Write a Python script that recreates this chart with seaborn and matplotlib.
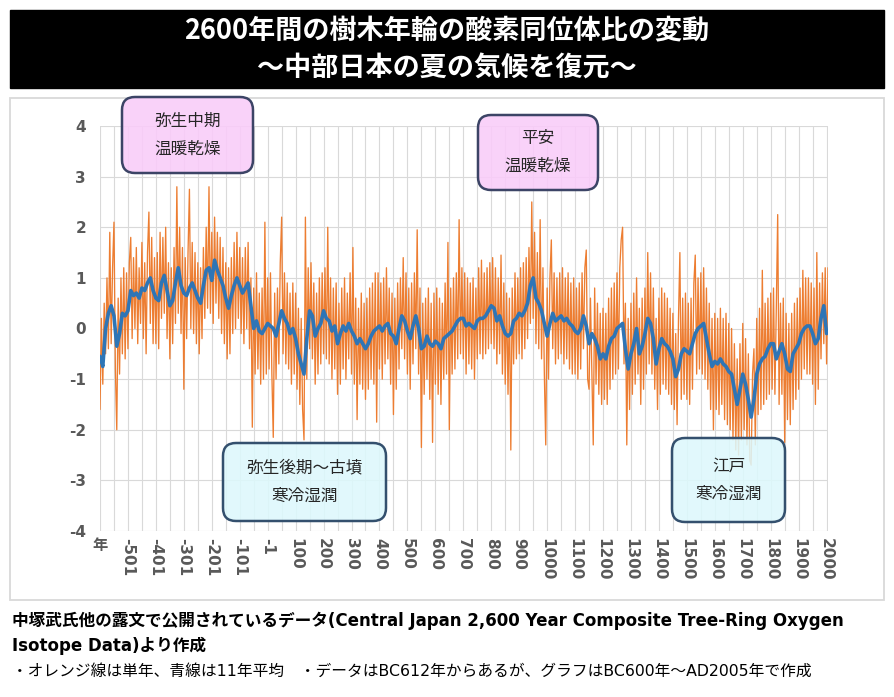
import numpy as np
import pandas as pd
import seaborn as sns
import matplotlib.pyplot as plt
from matplotlib.patches import FancyBboxPatch, Rectangle
from matplotlib.colors import to_rgba

"""
DATA: orange = single year values (5-year steps), blue = 11-year mean (10-year steps)
"""

annual_years = np.arange(-600, 2006, 5)
annual_vals = [
    -1.6, 0.2, -1.1, 0.5, -0.5, 1.0, -0.4, 1.9, -0.3, 1.2, 2.1, -0.8, -2.0, 0.6, -0.9, 1.0, -0.5, 1.2, -0.6, 1.1,
    -0.4, 1.3, 1.8, -0.2, 1.4, 0.0, 1.6, -0.3, 1.2, 0.1, 1.7, -0.2, 1.3, -0.5, 1.5, 2.3, 0.1, 1.8, -0.3, 1.4,
    -0.3, 1.5, -0.4, 1.9, 0.2, 1.8, 0.3, 2.0, -0.2, 1.3, -0.6, 1.2, -0.3, 1.6, 0.1, 2.8, 0.3, 2.0, -0.1, 1.6,
    -1.2, 1.4, -0.2, 1.5, 2.75, 0.0, 1.7, -0.1, 1.5, -0.3, 1.3, -0.5, 1.2, -0.2, 1.6, 0.2, 2.0, 0.4, 2.8, 0.3,
    1.9, 0.1, 2.2, 0.5, 1.9, 0.2, 1.8, -0.1, 1.6, -0.3, 1.3, -0.6, 1.2, -0.5, 1.4, -0.1, 1.7, 0.0, 1.9, 0.2,
    1.6, -0.1, 1.4, -0.3, 1.6, 0.0, 1.7, -0.4, 1.0, -1.95, 0.8, -0.9, 1.1, -0.8, 0.7, -1.1, 0.8, -1.0, 2.1, -0.9,
    1.0, -0.8, 1.1, -0.9, -2.15, 0.7, -1.0, 0.8, -0.7, 1.3, 2.2, -0.5, 1.1, -0.7, 0.9, -0.8, 0.7, -1.1, 0.9, -0.9,
    0.7, -1.2, 0.4, -1.5, 0.2, -1.6, -2.2, 2.2, -1.0, 1.2, -0.4, 1.3, -0.6, 0.9, -1.1, 0.7, -0.9, 1.0, -0.7, 1.1,
    -0.5, 1.2, -0.6, 2.0, -0.7, 1.0, -1.0, 0.8, -0.8, 0.9, -1.3, 0.5, -1.1, 0.8, -0.8, 1.0, -1.0, 0.7, -0.6, 1.1,
    -0.9, 1.6, -1.1, 0.6, -1.8, 0.4, -1.1, 0.7, -1.2, 0.5, -1.4, 0.6, -1.2, 0.8, -1.0, 0.9, -1.1, 1.1, -1.85, 1.1,
    -0.8, 0.9, -1.0, 1.0, -0.7, 1.2, -0.6, 0.8, -1.1, 0.7, -1.7, 0.6, -1.2, 0.9, -0.8, 1.0, -0.4, 1.4, -0.6, 1.1,
    -0.9, 0.8, -1.2, 0.9, -0.7, 1.1, -0.4, 1.95, -0.9, 0.8, -2.35, 0.5, -1.3, 0.6, -1.0, 0.8, -1.4, 0.5, -2.25, 0.7,
    -1.1, 0.8, -1.3, 0.6, -1.5, 0.5, -1.0, 0.9, -0.9, 1.7, -2.0, 0.8, -0.9, 1.0, -0.8, 1.1, -0.6, 2.15, -0.5, 1.2,
    -0.6, 1.1, -0.9, 1.0, -0.7, 0.9, -0.8, 1.0, -1.0, 0.8, -0.6, 1.2, -0.5, 1.35, -0.6, 1.1, -0.5, 1.2, -0.4, 1.3,
    -0.3, 1.4, -0.4, 1.2, -0.7, 1.0, -0.5, 1.45, -0.9, 0.9, -1.1, 0.7, -1.3, 0.6, -2.4, 0.8, -0.7, 1.1, -0.6, 1.0,
    -0.5, 1.2, -0.6, 1.3, -0.4, 1.4, -0.2, 1.6, 0.1, 2.5, 0.2, 1.9, -0.3, 1.5, -0.4, 2.15, -0.6, 1.2, -0.9, -2.3,
    0.8, -1.0, 1.0, 1.75, -0.4, 1.1, -0.7, 1.0, -0.6, 1.1, -0.5, 1.2, -0.7, 1.0, -0.6, 1.1, -0.8, 0.9, -0.9, 1.0,
    -0.9, 0.8, -1.0, 0.9, -0.8, 1.1, -0.4, 1.2, 1.55, -1.0, -1.2, 0.6, -0.9, -2.3, 0.8, -1.1, 0.5, -1.3, 0.3, -1.5,
    0.4, -1.4, 0.3, -1.5, 0.6, -1.2, 0.8, -1.0, 0.9, -0.9, 1.1, -0.8, 1.2, 1.75, 2.0, -0.7, 0.5, -2.3, 0.2, -1.6,
    0.5, -1.3, 0.7, -1.1, 1.0, -0.9, 0.4, -1.5, 0.6, -1.2, 0.8, -0.9, 1.5, -0.7, 1.1, -0.9, 0.8, -1.2, 0.2, -1.6,
    0.6, -1.3, 0.8, -1.1, 0.7, -1.2, 0.6, -1.3, 0.4, -1.5, 0.3, -1.6, -0.1, -1.9, 0.2, 1.5, -1.4, 0.6, -1.3, 0.7,
    -1.4, 0.5, -1.5, 0.6, -1.2, 0.9, 1.45, -0.9, 1.0, -0.8, 1.1, -0.9, 1.2, -1.0, 0.8, -1.2, 0.5, -1.6, 0.2, -2.0,
    0.3, -1.6, 0.2, -1.7, 0.4, -1.5, 0.2, -1.8, 0.3, -1.9, 0.1, -2.0, 0.0, -2.2, -0.3, -2.4, -0.6, -2.5, -0.3, -2.2,
    0.1, -2.0, -0.2, -2.3, -0.5, -2.6, -2.7, -0.9, -0.4, -2.3, 0.2, -1.7, 0.4, -1.6, 1.15, -1.5, 0.5, -1.4, 0.6, -1.3,
    0.7, -1.2, 0.8, -1.3, 0.4, 2.25, -1.5, 0.5, -1.3, 0.6, -2.25, 0.3, -1.8, 0.1, -1.9, 0.3, -1.6, 0.5, -1.4, 0.6,
    -1.2, 0.8, -1.0, 1.15, -0.8, 1.0, -0.9, 1.0, -0.9, 0.9, -1.1, 0.8, -1.5, 1.5, -1.2, 0.9, -0.6, 1.1, -0.3, 1.2,
    -0.7, 1.2,
]

mean_years = np.arange(-600, 2001, 10)
mean_vals = [
    -0.55, -0.75, 0.0, 0.3, 0.45, 0.25, -0.35, -0.1, 0.3, 0.25,
    0.35, 0.75, 0.65, 0.7, 0.6, 0.8, 0.75, 0.9, 1.0, 0.75,
    0.6, 0.55, 0.9, 1.05, 0.75, 0.45, 0.55, 0.9, 1.2, 0.85,
    0.7, 0.65, 0.8, 0.9, 0.75, 0.6, 0.5, 0.85, 1.15, 1.2,
    0.95, 1.35, 1.15, 1.0, 0.85, 0.6, 0.4, 0.65, 0.85, 1.0,
    0.85, 0.7, 0.8, 0.9, 0.45, 0.0, 0.15, -0.05, -0.1, 0.0,
    0.1, 0.05, 0.0, -0.15, 0.1, 0.35, 0.2, 0.1, -0.1, 0.0,
    -0.2, -0.5, -0.7, -0.9, -0.2, 0.35, 0.25, -0.15, 0.0, 0.1,
    0.35, 0.2, 0.15, -0.05, 0.05, -0.3, -0.1, 0.05, -0.05, 0.1,
    -0.05, -0.15, -0.3, -0.2, -0.3, -0.4, -0.3, -0.15, -0.05, 0.0,
    0.05, -0.05, 0.05, 0.1, -0.1, -0.15, -0.3, 0.0, 0.25, 0.15,
    -0.05, -0.2, 0.05, 0.25, 0.0, -0.4, -0.35, -0.15, -0.3, -0.35,
    -0.25, -0.3, -0.4, -0.2, -0.15, -0.1, -0.05, 0.05, 0.15, 0.2,
    0.2, 0.05, 0.1, 0.05, 0.0, 0.15, 0.2, 0.2, 0.25, 0.35,
    0.45, 0.4, 0.15, 0.25, 0.05, -0.1, -0.15, -0.1, 0.15, 0.2,
    0.3, 0.25, 0.35, 0.5, 0.85, 1.0, 0.6, 0.5, 0.35, 0.1,
    -0.15, 0.1, 0.3, 0.15, 0.2, 0.25, 0.15, 0.2, 0.1, 0.05,
    -0.05, -0.1, 0.0, 0.25, 0.05, -0.3, -0.1, -0.2, -0.35, -0.6,
    -0.5, -0.6, -0.35, -0.2, -0.15, 0.0, 0.05, 0.1, -0.4, -0.8,
    -0.5, -0.3, 0.0, -0.5, -0.35, -0.1, 0.2, 0.1, -0.2, -0.7,
    -0.4, -0.2, -0.3, -0.35, -0.45, -0.6, -0.95, -0.8, -0.5, -0.4,
    -0.45, -0.5, -0.3, -0.1, 0.0, 0.05, 0.1, -0.2, -0.5, -0.75,
    -0.65, -0.7, -0.6, -0.7, -0.75, -0.85, -0.9, -1.2, -1.5, -1.2,
    -0.9, -1.1, -1.4, -1.75, -1.4, -0.9, -0.7, -0.6, -0.55, -0.4,
    -0.3, -0.3, -0.6, -0.45, -0.3, -0.5, -0.8, -0.85, -0.5, -0.4,
    -0.3, -0.1, 0.0, 0.05, 0.05, -0.1, -0.3, -0.2, 0.2, 0.45,
    -0.1,
]

tick_pos = np.arange(-600, 2001, 100)
tick_labels = ['年', '-501', '-401', '-301', '-201', '-101', '-1'] + [str(v) for v in range(100, 2001, 100)]

df_annual = pd.DataFrame({'year': annual_years, 'val': annual_vals})
df_mean = pd.DataFrame({'year': mean_years, 'val': mean_vals})

sns.set_theme(style='white')
plt.rcParams['font.family'] = ['DejaVu Sans', 'Noto Sans CJK JP']
JP = ['Noto Sans CJK JP', 'DejaVu Sans']

fig = plt.figure(figsize=(8.94, 6.97), dpi=100)
ax = fig.add_axes([100 / 894, 1 - 531 / 697, 728 / 894, 405 / 697])

sns.lineplot(data=df_annual, x='year', y='val', color='#ED7D31', lw=0.95, sort=False, ax=ax)
sns.lineplot(data=df_mean, x='year', y='val', color='#2E75B6', lw=2.6, sort=False, ax=ax)

ax.set_xlim(-600, 2005)
ax.set_ylim(-4, 4)
ax.set_yticks(range(-4, 5))
ax.set_yticklabels([str(v) for v in range(-4, 5)], fontweight='bold', color='#595959', fontsize=11)
ax.set_xticks(tick_pos)
ax.set_xticklabels(tick_labels, rotation=-90, fontweight='bold', color='#595959', fontsize=11)
ax.get_xticklabels()[0].set_rotation(0)
ax.set_xticks(np.arange(-550, 2000, 100), minor=True)
ax.grid(True, which='both', color='#d9d9d9', lw=0.8)
ax.tick_params(which='both', length=0)
ax.tick_params(axis='x', pad=5)
ax.tick_params(axis='y', pad=10)
for s in ax.spines.values():
    s.set_visible(False)
ax.set_xlabel('')
ax.set_ylabel('')

# overlay in pixel coordinates
ov = fig.add_axes([0, 0, 1, 1], zorder=5)
ov.set_xlim(0, 894)
ov.set_ylim(697, 0)
ov.axis('off')
ov.patch.set_alpha(0)

ov.add_patch(Rectangle((10, 10), 874, 78, color='black'))
ov.text(447, 31, '2600年間の樹木年輪の酸素同位体比の変動', ha='center', va='center',
        color='white', fontsize=19.5, fontweight='bold', family=JP)
ov.text(447, 68, '～中部日本の夏の気候を復元～', ha='center', va='center',
        color='white', fontsize=19.5, fontweight='bold', family=JP)

ov.add_patch(Rectangle((10, 98), 874, 502, fill=False, ec='#d9d9d9', lw=1.3))

boxes = [
    (122, 97, 131, 76, '#F9CCF9', '#3C4466', ['弥生中期', '温暖乾燥']),
    (478, 115, 120, 75, '#F9CCF9', '#3C4466', ['平安', '温暖乾燥']),
    (223, 443, 163, 78, '#DDF8FC', '#34506E', ['弥生後期～古墳', '寒冷湿潤']),
    (672, 438, 113, 84, '#DDF8FC', '#34506E', ['江戸', '寒冷湿潤']),
]
for x, y, w, h, fc, ec, lines in boxes:
    ov.add_patch(FancyBboxPatch((x, y), w, h, boxstyle='round,pad=0,rounding_size=13',
                                fc=to_rgba(fc, 0.88), ec=ec, lw=1.8))
    cy = y + h / 2
    ov.text(x + w / 2, cy - 14, lines[0], ha='center', va='center', fontsize=12,
            color='#262626', family=JP)
    ov.text(x + w / 2, cy + 14, lines[1], ha='center', va='center', fontsize=12,
            color='#262626', family=JP)

ov.text(12, 621, '中塚武氏他の露文で公開されているデータ(Central Japan 2,600 Year Composite Tree-Ring Oxygen',
        ha='left', va='center', fontsize=12, fontweight='bold', color='black')
ov.text(12, 646, 'Isotope Data)より作成', ha='left', va='center', fontsize=12,
        fontweight='bold', color='black')
ov.text(12, 671, '・オレンジ線は単年、青線は11年平均　・データはBC612年からあるが、グラフはBC600年～AD2005年で作成',
        ha='left', va='center', fontsize=11.3, color='black')

fig.savefig('out.png', dpi=100)
